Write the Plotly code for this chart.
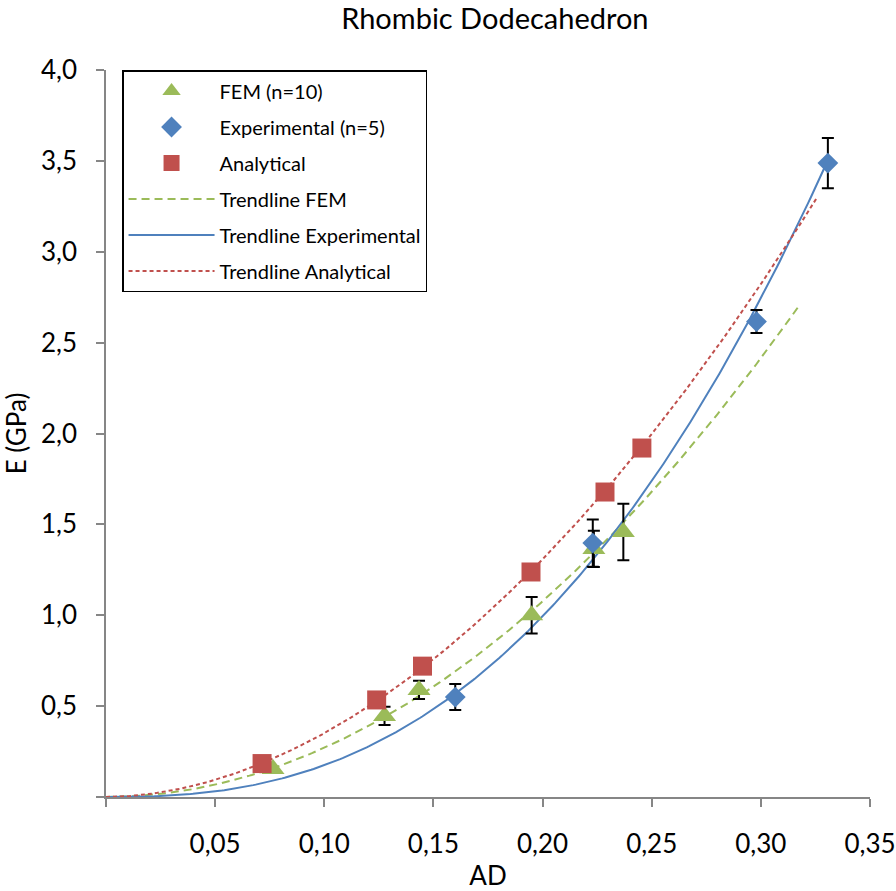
import numpy as np
import plotly.graph_objects as go

# ---- data ----
fem_x = [0.0765, 0.1276, 0.1434, 0.1950, 0.2235, 0.2370]
fem_y = [0.154, 0.446, 0.589, 1.000, 1.365, 1.458]
fem_err = [None, 0.05, 0.05, 0.10, 0.10, 0.155]

exp_x = [0.1600, 0.2230, 0.2980, 0.3307]
exp_y = [0.550, 1.397, 2.616, 3.488]
exp_err = [0.072, 0.13, 0.063, 0.138]

ana_x = [0.0715, 0.1240, 0.1450, 0.1947, 0.2286, 0.2455]
ana_y = [0.184, 0.534, 0.720, 1.238, 1.678, 1.920]

# trendline extents (Excel forecast settings)
fem_trend_end = 0.317
exp_trend_end = 0.3307
ana_trend_end = 0.3255

x_ticks = [0.0, 0.05, 0.10, 0.15, 0.20, 0.25, 0.30, 0.35]
y_ticks = [0.0, 0.5, 1.0, 1.5, 2.0, 2.5, 3.0, 3.5, 4.0]

GREEN = "#9BBB59"
BLUE = "#4F81BD"
RED = "#C0504D"
FONT = "Lato"


def power_trend(xs, ys, x_end):
    b, ln_a = np.polyfit(np.log(xs), np.log(ys), 1)
    xx = np.linspace(0.0, x_end, 300)
    return xx, np.exp(ln_a) * xx ** b


def fmt(v, d):
    return "" if v == 0 else f"{v:.{d}f}".replace(".", ",")


fig = go.Figure()

# trendlines first (drawn underneath)
tx, ty = power_trend(fem_x, fem_y, fem_trend_end)
fig.add_trace(go.Scatter(x=tx, y=ty, mode="lines", name="Trendline FEM", legendgroup="d",
                         legendrank=4, line=dict(color=GREEN, width=2, dash="8px,5px")))
tx, ty = power_trend(exp_x, exp_y, exp_trend_end)
fig.add_trace(go.Scatter(x=tx, y=ty, mode="lines", name="Trendline Experimental", legendgroup="e",
                         legendrank=5, line=dict(color=BLUE, width=2)))
tx, ty = power_trend(ana_x, ana_y, ana_trend_end)
fig.add_trace(go.Scatter(x=tx, y=ty, mode="lines", name="Trendline Analytical", legendgroup="f",
                         legendrank=6, line=dict(color=RED, width=2, dash="4px,3px")))

fig.add_trace(go.Scatter(
    x=fem_x, y=fem_y, mode="markers", name="FEM (n=10)", legendgroup="a", legendrank=1,
    marker=dict(symbol="triangle-up", size=20, color=GREEN),
    error_y=dict(type="data", array=fem_err, color="black", thickness=2, width=6),
))
fig.add_trace(go.Scatter(
    x=exp_x, y=exp_y, mode="markers", name="Experimental (n=5)", legendgroup="b", legendrank=2,
    marker=dict(symbol="diamond", size=16, color=BLUE),
    error_y=dict(type="data", array=exp_err, color="black", thickness=2, width=6),
))
fig.add_trace(go.Scatter(
    x=ana_x, y=ana_y, mode="markers", name="Analytical", legendgroup="c", legendrank=3,
    marker=dict(symbol="square", size=19, color=RED),
))

axis_common = dict(showline=True, linecolor="#868686", linewidth=1.5, ticks="outside",
                   ticklen=8, tickcolor="#868686", tickwidth=1.5, showgrid=False,
                   zeroline=False, automargin=False,
                   tickfont=dict(family=FONT, size=26, color="black"))

fig.update_layout(
    width=896, height=891,
    paper_bgcolor="white", plot_bgcolor="white",
    margin=dict(l=106, r=26, t=70, b=94),
    font=dict(family=FONT, color="black"),
    title=dict(text="Rhombic Dodecahedron", x=0.509, xref="paper", y=0.979, yanchor="middle",
               font=dict(family=FONT, size=29, color="black")),
    xaxis=dict(range=[0, 0.35], tickvals=x_ticks, ticktext=[fmt(v, 2) for v in x_ticks],
               ticklabelstandoff=15,
               title=dict(text="AD", font=dict(family=FONT, size=26), standoff=12),
               **axis_common),
    yaxis=dict(range=[0, 4.0], tickvals=y_ticks, ticktext=[fmt(v, 1) for v in y_ticks],
               ticklabelstandoff=14,
               title=dict(text="E (GPa)", font=dict(family=FONT, size=26), standoff=16),
               **axis_common),
    legend=dict(x=0.021, y=1.0, xanchor="left", yanchor="top", traceorder="grouped",
                bordercolor="black", borderwidth=1.5, bgcolor="white",
                font=dict(family=FONT, size=20, color="black"),
                tracegroupgap=7, itemwidth=86),
)

fig.write_html("out.html", config={"displayModeBar": False},
               post_script="document.body.style.margin='0px';")
